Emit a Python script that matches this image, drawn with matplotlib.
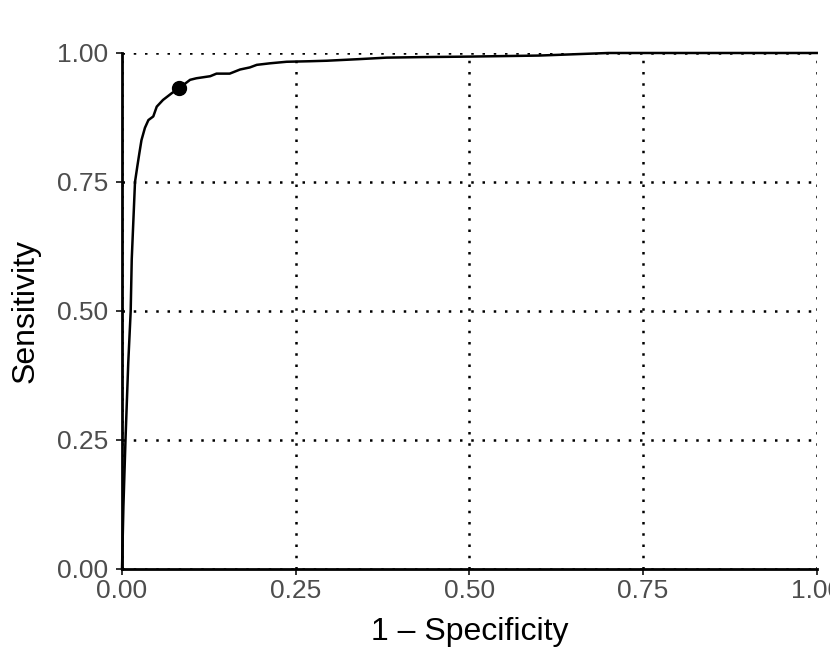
import numpy as np
import matplotlib

matplotlib.use("Agg")
import matplotlib.pyplot as plt

# ROC curve (1 - specificity, sensitivity)
fpr = [0.0, 0.002, 0.005, 0.009, 0.0125, 0.014, 0.0165, 0.0187, 0.022, 0.025,
       0.028, 0.033, 0.038, 0.045, 0.050, 0.059, 0.0715, 0.0825, 0.098,
       0.107, 0.127, 0.136, 0.155, 0.170, 0.184, 0.194, 0.213, 0.237,
       0.27, 0.295, 0.34, 0.381, 0.43, 0.50, 0.60, 0.66, 0.70, 0.75, 1.0]
tpr = [0.0, 0.12, 0.25, 0.40, 0.50, 0.60, 0.68, 0.75, 0.78, 0.806,
       0.831, 0.855, 0.870, 0.877, 0.896, 0.909, 0.922, 0.932, 0.948,
       0.951, 0.955, 0.960, 0.960, 0.968, 0.972, 0.977, 0.980, 0.983,
       0.984, 0.985, 0.988, 0.991, 0.992, 0.993, 0.995, 0.998, 1.0, 1.0, 1.0]

# optimal cut-off point
best_fpr = 0.0825
best_tpr = 0.932

ticks = [0.0, 0.25, 0.5, 0.75, 1.0]
tick_labels = ["0.00", "0.25", "0.50", "0.75", "1.00"]

plt.rcParams["font.family"] = ["Liberation Sans", "DejaVu Sans"]

fig = plt.figure(figsize=(8.3, 6.64), dpi=100)
ax = fig.add_axes([0.147, 0.1431, 0.837, 0.7771])

ax.plot(fpr, tpr, color="black", linewidth=1.8, clip_on=False, zorder=3)
ax.plot([best_fpr], [best_tpr], "o", color="black", markersize=10,
        clip_on=False, zorder=4)

ax.set_xlim(0, 1)
ax.set_ylim(0, 1)
ax.set_xticks(ticks)
ax.set_yticks(ticks)
ax.set_xticklabels(tick_labels)
ax.set_yticklabels(tick_labels)

ax.grid(True, color="black", linestyle=(0, (1, 3.5)), linewidth=1.8)
ax.set_axisbelow(True)

for side in ("top", "right"):
    ax.spines[side].set_visible(False)
for side in ("left", "bottom"):
    ax.spines[side].set_linewidth(2.0)
    ax.spines[side].set_zorder(5)

ax.tick_params(axis="both", length=4, width=1.4, color="#333333",
               labelsize=19, labelcolor="#4D4D4D")
ax.tick_params(axis="y", pad=6)
ax.tick_params(axis="x", pad=3)

ax.set_xlabel("1 \u2013 Specificity", fontsize=23, color="black", labelpad=10)
ax.set_ylabel("Sensitivity", fontsize=23, color="black", labelpad=12)

fig.savefig("out.png", dpi=100)
plt.close(fig)
